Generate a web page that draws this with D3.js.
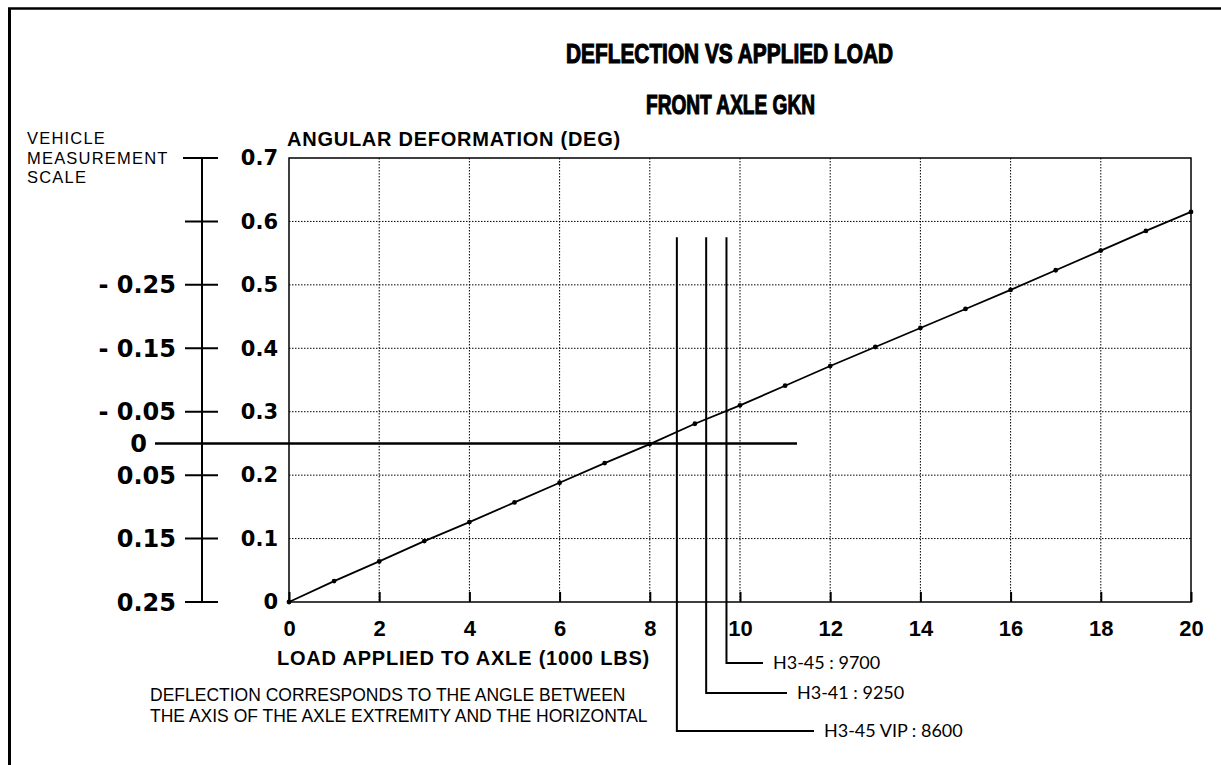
<!DOCTYPE html>
<html>
<head>
<meta charset="utf-8">
<script src="https://cdn.jsdelivr.net/npm/d3@7"></script>
<style>
  body { margin: 0; background: #fff; }
  svg { display: block; }
  .title { font-family: "Liberation Sans", Arial, sans-serif; font-weight: bold; font-size: 28px; stroke: #000; stroke-width: 1.2px; }
  .axis-title { font-family: "Liberation Sans", Arial, sans-serif; font-weight: bold; }
  .tick-y, .tick-v { font-family: "DejaVu Sans", sans-serif; font-weight: bold; }
  .tick-x { font-family: "Liberation Sans", Arial, sans-serif; font-weight: bold; font-size: 22px; }
  .note { font-family: "Liberation Sans", Arial, sans-serif; font-size: 16.5px; }
  .marker-label { font-family: Lato, "Open Sans", sans-serif; font-weight: 400; font-size: 18px; }
  .grid { stroke: #000; stroke-width: 1; stroke-dasharray: 1.5 1.5; }
</style>
</head>
<body>
<svg id="chart"></svg>
<script>
// Load applied to the axle, in 1000 lbs
const loads = [0, 1, 2, 3, 4, 5, 6, 7, 8, 9, 10, 11, 12, 13, 14, 15, 16, 17, 18, 19, 20];
// Angular deformation, deg
const deflection = [0, 0.033, 0.064, 0.096, 0.126, 0.157, 0.188, 0.219, 0.249, 0.281,
  0.310, 0.341, 0.372, 0.402, 0.432, 0.462, 0.492, 0.523, 0.554, 0.585, 0.615];

const xTicks = [0, 2, 4, 6, 8, 10, 12, 14, 16, 18, 20];
const yTicks = [0, 0.1, 0.2, 0.3, 0.4, 0.5, 0.6, 0.7];

// Vehicle measurement scale (deg offset from the 0.25 deg reference)
const vehicleTicks = [-0.25, -0.15, -0.05, 0, 0.05, 0.15, 0.25];
const vehicleBlankTicks = [-0.45, -0.35]; // unlabelled ticks at 0.7 and 0.6

// Vehicle versions and their axle loads (1000 lbs)
const markerNames = ["H3-45 VIP", "H3-41", "H3-45"];
const markerLoads = [8.6, 9.25, 9.7];
const markerValues = [8600, 9250, 9700];

const W = 1221, H = 765;
const margin = { top: 158, right: 30, bottom: 163, left: 289 };
const width = W - margin.left - margin.right;
const height = H - margin.top - margin.bottom;

const svg = d3.select("#chart").attr("width", W).attr("height", H);

// page frame
svg.append("line").attr("x1", 8).attr("x2", W).attr("y1", 8.5).attr("y2", 8.5)
  .attr("stroke", "#000").attr("stroke-width", 2.5);
svg.append("line").attr("x1", 9.5).attr("x2", 9.5).attr("y1", 8).attr("y2", H)
  .attr("stroke", "#000").attr("stroke-width", 3);

// titles
svg.append("text").attr("class", "title").attr("x", 566).attr("y", 63)
  .attr("textLength", 327).attr("lengthAdjust", "spacingAndGlyphs")
  .text("DEFLECTION VS APPLIED LOAD");
svg.append("text").attr("class", "title").attr("x", 646).attr("y", 114)
  .attr("textLength", 169).attr("lengthAdjust", "spacingAndGlyphs")
  .text("FRONT AXLE GKN");

const xScale = d3.scaleLinear().domain([0, 20]).range([0, width]);
const yScale = d3.scaleLinear().domain([0, 0.7]).range([height, 0]);

const chart = svg.append("g")
  .attr("transform", `translate(${margin.left},${margin.top})`);

// gridlines
chart.append("g").selectAll("line")
  .data(yTicks.slice(1, -1))
  .join("line").attr("class", "grid")
  .attr("x1", 0).attr("x2", width)
  .attr("y1", d => yScale(d)).attr("y2", d => yScale(d));
chart.append("g").selectAll("line")
  .data(xTicks.slice(1, -1))
  .join("line").attr("class", "grid")
  .attr("x1", d => xScale(d)).attr("x2", d => xScale(d))
  .attr("y1", 0).attr("y2", height);

// frame of the plot
chart.append("rect").attr("width", width).attr("height", height)
  .attr("fill", "none").attr("stroke", "#000").attr("stroke-width", 1.5);

// x axis: short inner ticks + labels
const xAxis = d3.axisBottom(xScale).tickValues(xTicks).tickSize(-10).tickPadding(18)
  .tickFormat(d => d);
const xAxisG = chart.append("g").attr("transform", `translate(0,${height})`).call(xAxis);
xAxisG.select(".domain").remove();
xAxisG.selectAll(".tick line").attr("stroke", "#000").attr("stroke-width", 2);
xAxisG.selectAll(".tick text").attr("class", "tick-x").attr("fill", "#000");

// y axis labels
const yAxis = d3.axisLeft(yScale).tickValues(yTicks).tickSize(0).tickPadding(11)
  .tickFormat(d => d === 0 ? "0" : d3.format(".1f")(d));
const yAxisG = chart.append("g").call(yAxis);
yAxisG.select(".domain").remove();
yAxisG.selectAll(".tick text").attr("class", "tick-y").attr("fill", "#000")
  .style("font-size", "21px");

// axis titles
svg.append("text").attr("class", "axis-title").attr("x", 287).attr("y", 146)
  .style("font-size", "20px").style("letter-spacing", "0.75px")
  .text("ANGULAR DEFORMATION (DEG)");
svg.append("text").attr("class", "axis-title").attr("x", 277).attr("y", 665)
  .style("font-size", "20px").style("letter-spacing", "0.8px")
  .text("LOAD APPLIED TO AXLE (1000 LBS)");

// vehicle measurement scale, 0 sits at 0.25 deg
const vScale = d3.scaleLinear().domain([0.25, -0.25])
  .range([yScale(0), yScale(0.5)]);
const vx = 202;
const vAxis = svg.append("g").attr("transform", `translate(0,${margin.top})`);
vAxis.append("line").attr("x1", vx).attr("x2", vx)
  .attr("y1", vScale(-0.45)).attr("y2", vScale(0.25))
  .attr("stroke", "#000").attr("stroke-width", 2);
vAxis.selectAll(".vtick")
  .data(vehicleTicks.filter(d => d !== 0).concat(vehicleBlankTicks))
  .join("line").attr("class", "vtick")
  .attr("x1", d => d === -0.45 ? 183 : 185).attr("x2", 218)
  .attr("y1", d => vScale(d)).attr("y2", d => vScale(d))
  .attr("stroke", "#000").attr("stroke-width", 2);
// the zero reference runs across into the plot
vAxis.append("line").attr("x1", 155).attr("x2", 797)
  .attr("y1", vScale(0)).attr("y2", vScale(0))
  .attr("stroke", "#000").attr("stroke-width", 2.5);
vAxis.selectAll(".tick-v")
  .data(vehicleTicks)
  .join("text").attr("class", "tick-v")
  .attr("x", d => d === 0 ? 147 : 176)
  .attr("y", d => vScale(d)).attr("dy", "0.36em")
  .attr("text-anchor", "end").style("font-size", "24px")
  .text(d => d < 0 ? "- " + Math.abs(d) : String(d));

svg.append("text").attr("class", "note").attr("x", 27).attr("y", 144)
  .style("letter-spacing", "1.2px")
  .selectAll("tspan").data(["VEHICLE", "MEASUREMENT", "SCALE"])
  .join("tspan").attr("x", 27).attr("dy", (d, i) => i ? 19.5 : 0).text(d => d);

// data line and points
const line = d3.line().x((d, i) => xScale(loads[i])).y(d => yScale(d));
chart.append("path").datum(deflection)
  .attr("fill", "none").attr("stroke", "#000").attr("stroke-width", 1.8)
  .attr("d", line);
chart.selectAll(".point").data(deflection).join("circle").attr("class", "point")
  .attr("cx", (d, i) => xScale(loads[i])).attr("cy", d => yScale(d))
  .attr("r", 2.4).attr("fill", "#000");

// vehicle load markers with leader lines
const markerBottoms = [731, 693, 663];
const markerEnds = [814, 787, 763];
markerLoads.forEach((m, i) => {
  const x = margin.left + xScale(m);
  const yb = markerBottoms[i];
  svg.append("path")
    .attr("d", `M${x},${margin.top + yScale(0.575)}V${yb}H${markerEnds[i]}`)
    .attr("fill", "none").attr("stroke", "#000").attr("stroke-width", 2);
  svg.append("text").attr("class", "marker-label")
    .attr("x", markerEnds[i] + 10).attr("y", yb).attr("dy", "0.35em")
    .text(`${markerNames[i]} : ${markerValues[i]}`);
});

// explanatory note
svg.append("text").attr("class", "note").attr("x", 150).attr("y", 701)
  .style("font-size", "17.5px")
  .selectAll("tspan")
  .data(["DEFLECTION CORRESPONDS TO THE ANGLE BETWEEN",
         "THE AXIS OF THE AXLE EXTREMITY AND THE HORIZONTAL"])
  .join("tspan").attr("x", 150).attr("dy", (d, i) => i ? 21 : 0).text(d => d);
</script>
</body>
</html>
